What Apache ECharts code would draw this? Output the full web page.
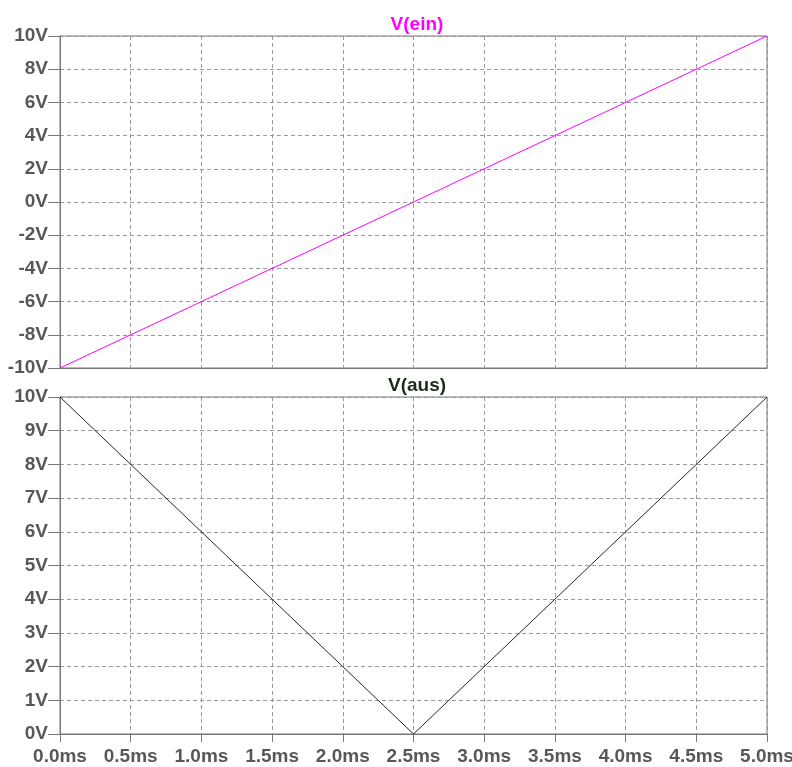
<!DOCTYPE html>
<html>
<head>
<meta charset="utf-8">
<script src="https://cdn.jsdelivr.net/npm/echarts@6/dist/echarts.min.js"></script>
<style>
  html, body { margin: 0; padding: 0; background: #fff; }
  #main { width: 792px; height: 767px; }
</style>
</head>
<body>
<div id="main"></div>
<script>
// time points in ms
var timeMs = [0, 2.5, 5];
// V(ein) - input ramp
var vEin = [-10, 0, 10];
// V(aus) - rectified output
var vAus = [10, 0, 10];

var labelFont = {
    color: '#585858',
    fontFamily: 'Liberation Sans',
    fontWeight: 'bold',
    fontSize: 19
};
var axisLineCol = '#777';
var gridCol = '#9a9a9a';

function toPairs(xs, ys) {
    return xs.map(function (x, i) { return [x, ys[i]]; });
}

function xAxis(idx, showLabels) {
    return {
        type: 'value',
        gridIndex: idx,
        min: 0,
        max: 5,
        interval: 0.5,
        axisLine: { show: true, onZero: false, lineStyle: { color: axisLineCol } },
        axisTick: { show: showLabels, length: 8, lineStyle: { color: axisLineCol } },
        axisLabel: Object.assign({
            show: showLabels,
            margin: 13,
            formatter: function (v) { return v.toFixed(1) + 'ms'; }
        }, labelFont),
        splitLine: { show: true, lineStyle: { color: gridCol, type: [4, 3] } }
    };
}

function yAxis(idx, min, max, interval) {
    return {
        type: 'value',
        gridIndex: idx,
        min: min,
        max: max,
        interval: interval,
        axisLine: { show: true, lineStyle: { color: axisLineCol } },
        axisTick: { show: true, length: 12, lineStyle: { color: axisLineCol } },
        axisLabel: Object.assign({
            margin: 12,
            formatter: function (v) { return v + 'V'; }
        }, labelFont),
        splitLine: { show: true, lineStyle: { color: gridCol, type: [4, 3] } }
    };
}

var chart = echarts.init(document.getElementById('main'));

var option = {
    backgroundColor: '#fff',
    animation: false,
    title: [
        {
            text: 'V(ein)', left: 412, top: 10, textAlign: 'center',
            textStyle: { color: '#ff00ff', fontSize: 19, fontWeight: 'bold', fontFamily: 'Liberation Sans' }
        },
        {
            text: 'V(aus)', left: 412, top: 371, textAlign: 'center',
            textStyle: { color: '#1c2b1c', fontSize: 19, fontWeight: 'bold', fontFamily: 'Liberation Sans' }
        }
    ],
    grid: [
        { left: 60, top: 36, width: 707, height: 332, outerBoundsMode: 'none', show: true, borderColor: axisLineCol, borderWidth: 1, backgroundColor: 'transparent' },
        { left: 60, top: 397, width: 707, height: 337, outerBoundsMode: 'none', show: true, borderColor: axisLineCol, borderWidth: 1, backgroundColor: 'transparent' }
    ],
    xAxis: [xAxis(0, false), xAxis(1, true)],
    yAxis: [yAxis(0, -10, 10, 2), yAxis(1, 0, 10, 1)],
    series: [
        {
            name: 'V(ein)', type: 'line', xAxisIndex: 0, yAxisIndex: 0,
            data: toPairs(timeMs, vEin), showSymbol: false,
            lineStyle: { color: '#ff00ff', width: 1 }
        },
        {
            name: 'V(aus)', type: 'line', xAxisIndex: 1, yAxisIndex: 1,
            data: toPairs(timeMs, vAus), showSymbol: false,
            lineStyle: { color: '#1c2b1c', width: 1 }
        }
    ]
};

chart.setOption(option);
</script>
</body>
</html>
